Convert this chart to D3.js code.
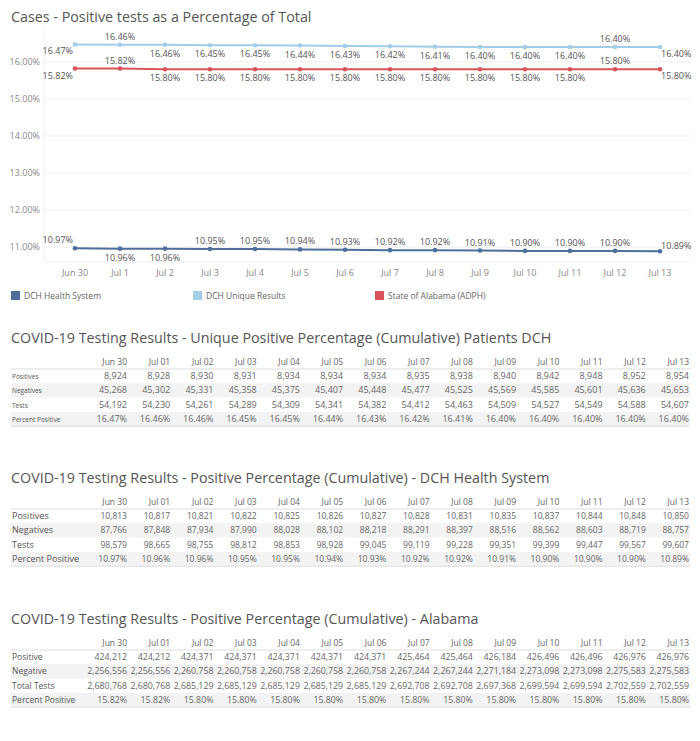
<!DOCTYPE html>
<html>
<head>
<meta charset="utf-8">
<script src="https://cdn.jsdelivr.net/npm/d3@7"></script>
<style>
  body { margin: 0; background: #fff; }
  svg { font-family: "Open Sans", sans-serif; }
  .title { fill: #555; font-size: 14.3px; }
  .tick-label { fill: #888; font-size: 9px; }
  .pt-label { fill: #555; font-size: 9px; }
  .legend-label { fill: #666; font-size: 8.5px; }
  .cell { fill: #666; font-size: 9px; }
</style>
</head>
<body>
<svg width="700" height="741"></svg>
<script>
// ---- data ----
const chartDates = ['Jun 30', 'Jul 1', 'Jul 2', 'Jul 3', 'Jul 4', 'Jul 5', 'Jul 6',
    'Jul 7', 'Jul 8', 'Jul 9', 'Jul 10', 'Jul 11', 'Jul 12', 'Jul 13'];
const tableDates = ['Jun 30', 'Jul 01', 'Jul 02', 'Jul 03', 'Jul 04', 'Jul 05', 'Jul 06',
    'Jul 07', 'Jul 08', 'Jul 09', 'Jul 10', 'Jul 11', 'Jul 12', 'Jul 13'];
const yTicks = [11, 12, 13, 14, 15, 16];

const uniquePct = [16.47, 16.46, 16.46, 16.45, 16.45, 16.44, 16.43, 16.42, 16.41, 16.40, 16.40, 16.40, 16.40, 16.40];
const dchPct = [10.97, 10.96, 10.96, 10.95, 10.95, 10.94, 10.93, 10.92, 10.92, 10.91, 10.90, 10.90, 10.90, 10.89];
const alPct = [15.82, 15.82, 15.80, 15.80, 15.80, 15.80, 15.80, 15.80, 15.80, 15.80, 15.80, 15.80, 15.80, 15.80];

const uniquePos = [8924, 8928, 8930, 8931, 8934, 8934, 8934, 8935, 8938, 8940, 8942, 8948, 8952, 8954];
const uniqueNeg = [45268, 45302, 45331, 45358, 45375, 45407, 45448, 45477, 45525, 45569, 45585, 45601, 45636, 45653];
const uniqueTests = [54192, 54230, 54261, 54289, 54309, 54341, 54382, 54412, 54463, 54509, 54527, 54549, 54588, 54607];

const dchPos = [10813, 10817, 10821, 10822, 10825, 10826, 10827, 10828, 10831, 10835, 10837, 10844, 10848, 10850];
const dchNeg = [87766, 87848, 87934, 87990, 88028, 88102, 88218, 88291, 88397, 88516, 88562, 88603, 88719, 88757];
const dchTests = [98579, 98665, 98755, 98812, 98853, 98928, 99045, 99119, 99228, 99351, 99399, 99447, 99567, 99607];

const alPos = [424212, 424212, 424371, 424371, 424371, 424371, 424371, 425464, 425464, 426184, 426496, 426496, 426976, 426976];
const alNeg = [2256556, 2256556, 2260758, 2260758, 2260758, 2260758, 2260758, 2267244, 2267244, 2271184, 2273098, 2273098, 2275583, 2275583];
const alTests = [2680768, 2680768, 2685129, 2685129, 2685129, 2685129, 2685129, 2692708, 2692708, 2697368, 2699594, 2699594, 2702559, 2702559];

const seriesNames = ['DCH Health System', 'DCH Unique Results', 'State of Alabama (ADPH)'];
const colors = ['#4e6f9e', '#a3cce9', '#d9545a'];

// ---- layout ----
const svg = d3.select('svg');
const fmtPct = v => v.toFixed(2) + '%';
const fmtNum = d3.format(',');

const x = d3.scalePoint().domain(chartDates).range([75, 660]);
const y = d3.scaleLinear().domain([10.6, 16.86]).range([262, 30]);

svg.append('text').attr('class', 'title').attr('x', 11).attr('y', 22)
    .text('Cases - Positive tests as a Percentage of Total');

// grid
svg.selectAll('.grid').data(yTicks).enter().append('line')
    .attr('x1', 44).attr('x2', 690)
    .attr('y1', d => y(d)).attr('y2', d => y(d))
    .attr('stroke', '#f0f0f0');
svg.append('line').attr('x1', 44).attr('x2', 44).attr('y1', 30).attr('y2', 262).attr('stroke', '#f0f0f0');
svg.append('line').attr('x1', 44).attr('x2', 690).attr('y1', 262).attr('y2', 262).attr('stroke', '#f0f0f0');

svg.selectAll('.ytick').data(yTicks).enter().append('text')
    .attr('class', 'tick-label').attr('x', 40).attr('y', d => y(d) + 3)
    .attr('text-anchor', 'end').text(d => d.toFixed(2) + '%');

svg.selectAll('.xtick').data(chartDates).enter().append('text')
    .attr('class', 'tick-label').attr('x', d => x(d)).attr('y', 276)
    .attr('text-anchor', 'middle').text(d => d);

// label side: -1 above, 1 below
const series = [
    { values: dchPct, color: colors[0], side: i => (i === 1 || i === 2) ? 1 : -1 },
    { values: uniquePct, color: colors[1], side: i => (i === 1 || i === 12) ? -1 : 1 },
    { values: alPct, color: colors[2], side: i => (i === 1 || i === 12) ? -1 : 1 }
];

const line = d3.line().x((d, i) => x(chartDates[i])).y(d => y(d));

series.forEach(s => {
    const g = svg.append('g');
    g.append('path').datum(s.values).attr('d', line)
        .attr('fill', 'none').attr('stroke', s.color).attr('stroke-width', 2);
    g.selectAll('circle').data(s.values).enter().append('circle')
        .attr('cx', (d, i) => x(chartDates[i])).attr('cy', d => y(d))
        .attr('r', 2.3).attr('fill', s.color);
    const n = s.values.length;
    g.selectAll('text').data(s.values).enter().append('text')
        .attr('class', 'pt-label')
        .attr('x', (d, i) => i === 0 ? x(chartDates[i]) - 2 : i === n - 1 ? x(chartDates[i]) + 1 : x(chartDates[i]))
        .attr('y', (d, i) => {
            const side = s.side(i);
            let off = side < 0 ? -5 : 12;
            if (i === 0 || i === n - 1) off = side < 0 ? -5 : 10;
            if (i === n - 1 && side < 0) off = -2;
            return y(d) + off;
        })
        .attr('text-anchor', (d, i) => i === 0 ? 'end' : i === n - 1 ? 'start' : 'middle')
        .text(d => fmtPct(d));
});

// legend
const legendX = [11, 193, 375];
seriesNames.forEach((name, i) => {
    svg.append('rect').attr('x', legendX[i]).attr('y', 291).attr('width', 9).attr('height', 9)
        .attr('fill', colors[i]);
    svg.append('text').attr('class', 'legend-label').attr('x', legendX[i] + 13).attr('y', 299)
        .text(name);
});

// ---- tables ----
const colX = d3.scalePoint().domain(tableDates).range([127, 689]);

function drawTable(top, title, rows, labelSize, valueSize) {
    const g = svg.append('g').attr('transform', `translate(0, ${top})`);
    g.append('text').attr('class', 'title').attr('x', 11).attr('y', 0).text(title);
    const rowH = 14.3;
    const headY = 22;
    g.selectAll('.head').data(tableDates).enter().append('text')
        .attr('class', 'cell').attr('x', d => colX(d)).attr('y', headY)
        .attr('text-anchor', 'end').style('font-size', '8.5px').text(d => d);
    rows.forEach((r, ri) => {
        const ry = headY + 4 + ri * rowH;
        if (ri % 2 === 1) {
            g.append('rect').attr('x', 11).attr('y', ry).attr('width', 679).attr('height', rowH)
                .attr('fill', '#f3f3f3');
        }
        g.append('text').attr('class', 'cell').attr('x', 12).attr('y', ry + 10)
            .style('font-size', labelSize + 'px').style('fill', '#555').text(r.label);
        g.selectAll('.v' + ri).data(r.values).enter().append('text')
            .attr('class', 'cell').attr('x', (d, i) => colX(tableDates[i])).attr('y', ry + 10)
            .attr('text-anchor', 'end').style('font-size', valueSize + 'px').text(d => r.fmt(d));
    });
    g.append('line').attr('x1', 11).attr('x2', 690).attr('y1', headY + 4).attr('y2', headY + 4)
        .attr('stroke', '#ddd');
    const bottom = headY + 4 + rows.length * rowH;
    g.append('line').attr('x1', 11).attr('x2', 690).attr('y1', bottom).attr('y2', bottom)
        .attr('stroke', '#ddd');
}

drawTable(343, 'COVID-19 Testing Results - Unique Positive Percentage (Cumulative) Patients DCH', [
    { label: 'Positives', values: uniquePos, fmt: fmtNum },
    { label: 'Negatives', values: uniqueNeg, fmt: fmtNum },
    { label: 'Tests', values: uniqueTests, fmt: fmtNum },
    { label: 'Percent Positive', values: uniquePct, fmt: fmtPct }
], 6.5, 9);

drawTable(483, 'COVID-19 Testing Results - Positive Percentage (Cumulative) - DCH Health System', [
    { label: 'Positives', values: dchPos, fmt: fmtNum },
    { label: 'Negatives', values: dchNeg, fmt: fmtNum },
    { label: 'Tests', values: dchTests, fmt: fmtNum },
    { label: 'Percent Positive', values: dchPct, fmt: fmtPct }
], 9, 8.5);

drawTable(624, 'COVID-19 Testing Results - Positive Percentage (Cumulative) - Alabama', [
    { label: 'Positive', values: alPos, fmt: fmtNum },
    { label: 'Negative', values: alNeg, fmt: fmtNum },
    { label: 'Total Tests', values: alTests, fmt: fmtNum },
    { label: 'Percent Positive', values: alPct, fmt: fmtPct }
], 8.5, 8.8);
</script>
</body>
</html>
